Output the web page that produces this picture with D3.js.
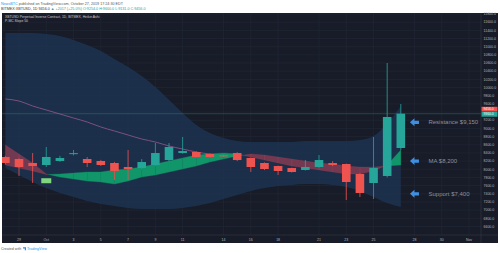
<!DOCTYPE html>
<html lang="en">
<head>
<meta charset="UTF-8">
<title>XBTUSD 1D</title>
<script src="https://cdn.jsdelivr.net/npm/d3@7"></script>
<style>
body { margin: 0; background: #fff; }
svg { display: block; font-family: "Liberation Sans", Arial, sans-serif; }
</style>
</head>
<body>
<script>
// daily Heikin Ashi candles
var days = ['2019-09-28', '2019-09-29', '2019-09-30', '2019-10-01', '2019-10-02', '2019-10-03',
    '2019-10-04', '2019-10-05', '2019-10-06', '2019-10-07', '2019-10-08', '2019-10-09',
    '2019-10-10', '2019-10-11', '2019-10-12', '2019-10-13', '2019-10-14', '2019-10-15',
    '2019-10-16', '2019-10-17', '2019-10-18', '2019-10-19', '2019-10-20', '2019-10-21',
    '2019-10-22', '2019-10-23', '2019-10-24', '2019-10-25', '2019-10-26', '2019-10-27'];
var open = [8301, 8252, 8154, 8105, 8203, 8380, 8252, 8203, 8154, 8056, 8031, 8105, 8227, 8398, 8423,
    8374, 8340, 8398, 8276, 8154, 8080, 8031, 7983, 8056, 8154, 8129, 7885, 7664, 7836, 8521];
var high = [8330, 8270, 8398, 8545, 8330, 8472, 8300, 8230, 8180, 8472, 8250, 8643, 8643, 8790, 8440,
    8390, 8360, 8420, 8290, 8170, 8090, 8040, 8227, 8350, 8200, 8140, 7900, 8790, 10601, 9598];
var low = [8120, 7836, 7664, 8056, 8180, 8340, 8056, 8080, 7738, 7738, 8000, 8080, 8200, 8380, 8280,
    8280, 8300, 8200, 7934, 7980, 7860, 7920, 7970, 8040, 8080, 7248, 7322, 7273, 7800, 8472];
var close = [8154, 8056, 8080, 8301, 8276, 8395, 8154, 8105, 7958, 8007, 8178, 8398, 8545, 8447, 8301,
    8301, 8320, 8227, 8056, 8007, 7958, 7934, 8056, 8227, 8105, 7689, 7420, 8031, 9280, 9360];

// wide blue envelope
var bandUpper = [11335, 11335, 11335, 11310, 11261, 11164, 11041, 10895, 10699, 10503, 10283, 10014,
    9696, 9377, 9084, 8888, 8766, 8692, 8668, 8668, 8668, 8668, 8692, 8692, 8692, 8692, 8717, 8815, 9108, 9549];
var bandLower = [8031, 7860, 7689, 7542, 7420, 7322, 7224, 7151, 7102, 7053, 7028, 7028, 7028, 7053,
    7102, 7175, 7273, 7371, 7469, 7542, 7591, 7616, 7640, 7640, 7616, 7567, 7469, 7322, 7175, 7077];

// cloud lines (green where A above B, red otherwise)
var cloudA = [8105, 8031, 7958, 7872, 7885, 7909, 7934, 7934, 7983, 8007, 8056, 8129, 8203, 8276, 8350,
    8374, 8398, 8374, 8301, 8227, 8154, 8080, 8031, 7983, 7934, 7885, 7885, 7958, 8105, 8472];
var cloudB = [8594, 8374, 8154, 7885, 7811, 7762, 7713, 7689, 7640, 7713, 7811, 7860, 7934, 8007, 8080,
    8178, 8252, 8325, 8374, 8350, 8301, 8252, 8203, 8154, 8129, 8080, 8056, 8056, 8080, 8105];

// slow moving average, Sep 28 to Oct 15
var maValues = [9720, 9671, 9549, 9451, 9353, 9255, 9157, 9035, 8937, 8839, 8741, 8668, 8570, 8496,
    8423, 8374, 8350, 8337];

var xTickDates = ['2019-09-29', '2019-10-01', '2019-10-03', '2019-10-05', '2019-10-07', '2019-10-09',
    '2019-10-11', '2019-10-14', '2019-10-16', '2019-10-18', '2019-10-21', '2019-10-23', '2019-10-25',
    '2019-10-28', '2019-10-30', '2019-11-01'];
var xTickLabels = ['29', 'Oct', '3', '5', '7', '9', '11', '14', '16', '18', '21', '23', '25', '28', '30', 'Nov'];
var yTicks = [6600, 6800, 7000, 7200, 7400, 7600, 7800, 8000, 8200, 8400, 8600, 8800, 9000, 9200, 9400,
    9600, 9800, 10000, 10200, 10400, 10600, 10800, 11000, 11200, 11400, 11600, 11800];

var noteTexts = ['Resistance $9,150', 'MA $8,200', 'Support $7,400'];
var noteLevels = [9150, 8200, 7400];
var lastPrice = 9360;
var markPrice = 9456;

var width = 500;
var height = 253;
var plot = { left: 2, top: 13, right: 481, bottom: 235 };

var svg = d3.select('body')
    .append('svg')
    .attr('width', width)
    .attr('height', height);

var parse = d3.utcParse('%Y-%m-%d');
var dates = days.map(parse);

var x = d3.scaleUtc()
    .domain([parse('2019-09-29'), parse('2019-11-01')])
    .range([19, 469]);
var y = d3.scaleLinear()
    .domain([6600, 11800])
    .range([226.5, 14]);

// header
var head = svg.append('text').attr('x', 1).attr('y', 4.6).attr('font-size', 3.7).attr('fill', '#555');
head.append('tspan').attr('fill', '#2196f3').text('NewsBTC');
head.append('tspan').text(' published on TradingView.com, October 27, 2019 17:24:30 EDT');
var head2 = svg.append('text').attr('x', 1).attr('y', 10).attr('font-size', 3.7).attr('fill', '#333');
head2.append('tspan').text('BITMEX:XBTUSD, 1D 9456.0 ');
head2.append('tspan').attr('fill', '#26a69a').text('▲ +2017 (+25.0%) O:9254.0 H:9600.0 L:9131.0 C:9456.0');

// dark panel
svg.append('rect')
    .attr('x', plot.left).attr('y', plot.top)
    .attr('width', 496).attr('height', 230)
    .attr('fill', '#181c28');

svg.append('clipPath').attr('id', 'clip')
    .append('rect')
    .attr('x', plot.left).attr('y', plot.top)
    .attr('width', plot.right - plot.left).attr('height', plot.bottom - plot.top);

var g = svg.append('g').attr('clip-path', 'url(#clip)');

// grid
g.selectAll('.hgrid')
    .data(yTicks)
    .enter()
    .append('line')
    .attr('x1', plot.left).attr('x2', plot.right)
    .attr('y1', function(d) { return y(d); })
    .attr('y2', function(d) { return y(d); })
    .attr('stroke', '#242938')
    .attr('stroke-width', 0.6);
g.selectAll('.vgrid')
    .data(xTickDates)
    .enter()
    .append('line')
    .attr('x1', function(d) { return x(parse(d)); })
    .attr('x2', function(d) { return x(parse(d)); })
    .attr('y1', plot.top).attr('y2', plot.bottom)
    .attr('stroke', '#242938')
    .attr('stroke-width', 0.6);

// envelope
var band = d3.area()
    .x(function(d, i) { return x(dates[i]); })
    .y0(function(d, i) { return y(bandLower[i]); })
    .y1(function(d, i) { return y(bandUpper[i]); })
    .curve(d3.curveMonotoneX);
g.append('path')
    .datum(bandUpper)
    .attr('d', band)
    .attr('fill', '#1d3553')
    .attr('fill-opacity', 0.8);

// slow MA
g.append('path')
    .datum(maValues)
    .attr('d', d3.line()
        .x(function(d, i) { return x(dates[i]); })
        .y(function(d) { return y(d); })
        .curve(d3.curveMonotoneX))
    .attr('fill', 'none')
    .attr('stroke', '#7d4f80')
    .attr('stroke-width', 1);

// cloud, split where the lines cross
var segs = [];
for (var i = 0; i < dates.length - 1; i++) {
    var d0 = cloudA[i] - cloudB[i], d1 = cloudA[i + 1] - cloudB[i + 1];
    var x0 = x(dates[i]), x1 = x(dates[i + 1]);
    var a0 = y(cloudA[i]), a1 = y(cloudA[i + 1]), b0 = y(cloudB[i]), b1 = y(cloudB[i + 1]);
    if (d0 * d1 >= 0) {
        segs.push({ pts: [[x0, a0], [x1, a1], [x1, b1], [x0, b0]], up: d0 + d1 > 0 });
    } else {
        var t = d0 / (d0 - d1);
        var xc = x0 + t * (x1 - x0), yc = a0 + t * (a1 - a0);
        segs.push({ pts: [[x0, a0], [xc, yc], [x0, b0]], up: d0 > 0 });
        segs.push({ pts: [[xc, yc], [x1, a1], [x1, b1]], up: d1 > 0 });
    }
}
g.selectAll('.cloud')
    .data(segs)
    .enter()
    .append('polygon')
    .attr('points', function(d) { return d.pts.join(' '); })
    .attr('fill', function(d) { return d.up ? '#11966a' : 'rgba(236,72,90,0.42)'; })
    .attr('stroke', function(d) { return d.up ? '#11966a' : 'rgba(236,72,90,0.42)'; })
    .attr('stroke-width', 0.3);

// last price line
g.append('line')
    .attr('x1', plot.left).attr('x2', plot.right)
    .attr('y1', y(lastPrice)).attr('y2', y(lastPrice))
    .attr('stroke', '#26a69a')
    .attr('stroke-opacity', 0.45)
    .attr('stroke-width', 0.7);

// candles
var bodyW = 8.6;
var idx = d3.range(dates.length);
function col(i) { return close[i] >= open[i] ? '#26a69a' : '#ef5350'; }
g.selectAll('.wick')
    .data(idx)
    .enter()
    .append('line')
    .attr('x1', function(i) { return x(dates[i]); })
    .attr('x2', function(i) { return x(dates[i]); })
    .attr('y1', function(i) { return y(high[i]); })
    .attr('y2', function(i) { return y(low[i]); })
    .attr('stroke', col)
    .attr('stroke-width', 0.8);
g.selectAll('.body')
    .data(idx)
    .enter()
    .append('rect')
    .attr('x', function(i) { return x(dates[i]) - bodyW / 2; })
    .attr('y', function(i) { return y(Math.max(open[i], close[i])); })
    .attr('width', bodyW)
    .attr('height', function(i) { return Math.max(1, Math.abs(y(open[i]) - y(close[i]))); })
    .attr('fill', col);

// small signal label under Oct 1
g.append('rect')
    .attr('x', x(parse('2019-10-01')) - 5).attr('y', y(7720) - 2.5)
    .attr('width', 10).attr('height', 5)
    .attr('fill', '#7fd67f');

// annotations
var noteX = x(parse('2019-10-28'));
var notes = g.selectAll('.note')
    .data(noteLevels)
    .enter()
    .append('g')
    .attr('transform', function(d) { return 'translate(' + noteX + ',' + y(d) + ')'; });
notes.append('path')
    .attr('d', 'M-4.5,0 L0,-4 L0,-1.6 L4.5,-1.6 L4.5,1.6 L0,1.6 L0,4 Z')
    .attr('fill', '#3f8ee0');
notes.append('text')
    .attr('x', 14)
    .attr('dy', '0.35em')
    .attr('font-size', 6)
    .attr('fill', '#8d909a')
    .text(function(d, i) { return noteTexts[i]; });

// legend
svg.append('text').attr('x', 5).attr('y', 17.5).attr('font-size', 3.4).attr('fill', '#c9ccd4')
    .text('XBTUSD Perpetual Inverse Contract, 1D, BITMEX, Heikin Ashi');
svg.append('text').attr('x', 5).attr('y', 21.8).attr('font-size', 3.4).attr('fill', '#c9ccd4')
    .text('P-MC Slope 50');

// axes separators
svg.append('line')
    .attr('x1', plot.left).attr('x2', 498)
    .attr('y1', plot.bottom).attr('y2', plot.bottom)
    .attr('stroke', '#363a48').attr('stroke-width', 0.6);
svg.append('line')
    .attr('x1', plot.right).attr('x2', plot.right)
    .attr('y1', plot.top).attr('y2', 243)
    .attr('stroke', '#363a48').attr('stroke-width', 0.6);

// price axis (labels hidden behind the price boxes are skipped)
var fmt = d3.format('.1f');
var boxes = [[markPrice, '#ef5350'], [lastPrice, '#26a69a']];
var shownTicks = yTicks.filter(function(d) {
    return boxes.every(function(b) { return Math.abs(y(d) - y(b[0])) > 4.5; });
});
svg.selectAll('.ylab')
    .data(shownTicks)
    .enter()
    .append('text')
    .attr('x', 483.5)
    .attr('y', function(d) { return y(d); })
    .attr('dy', '0.35em')
    .attr('font-size', 3.5)
    .attr('fill', '#b2b5be')
    .text(function(d) { return fmt(d); });

boxes.forEach(function(p, k) {
    var yy = y(p[0]) + (k === 0 ? -0.6 : 0.6);
    svg.append('rect')
        .attr('x', 481.5).attr('y', yy - 2.4)
        .attr('width', 16).attr('height', 4.8)
        .attr('fill', p[1]);
    svg.append('text')
        .attr('x', 483.5).attr('y', yy)
        .attr('dy', '0.35em')
        .attr('font-size', 3.3)
        .attr('fill', '#fff')
        .text(fmt(p[0]));
});

// time axis
svg.selectAll('.xlab')
    .data(xTickDates)
    .enter()
    .append('text')
    .attr('x', function(d) { return x(parse(d)); })
    .attr('y', 240.6)
    .attr('text-anchor', 'middle')
    .attr('font-size', 3.5)
    .attr('fill', '#b2b5be')
    .text(function(d, i) { return xTickLabels[i]; });

// footer
svg.append('text').attr('x', 1).attr('y', 249.6).attr('font-size', 3.6).attr('fill', '#555')
    .text('Created with');
svg.append('path').attr('d', 'M23,247.2 h3 v3 h-1.2 v-1.8 h-1.8 Z').attr('fill', '#2196f3');
svg.append('text').attr('x', 27).attr('y', 249.6).attr('font-size', 3.6).attr('fill', '#2196f3')
    .text('TradingView');
</script>
</body>
</html>
